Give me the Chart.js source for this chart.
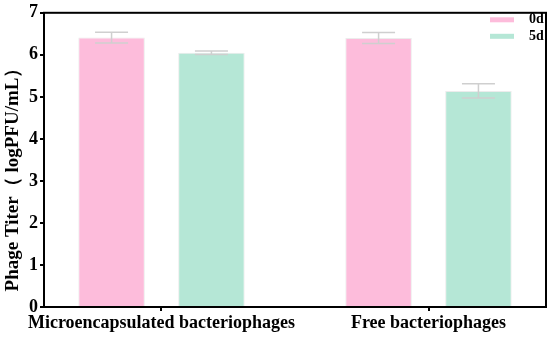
<!DOCTYPE html>
<html>
<head>
<meta charset="utf-8">
<script src="https://cdn.jsdelivr.net/npm/chart.js@4.4.0/dist/chart.umd.min.js"></script>
<style>
  body { margin: 0; background: #fff; }
  #wrap { width: 550px; height: 338px; }
</style>
</head>
<body>
<div id="wrap"><canvas id="myChart"></canvas></div>
<script>
const categories = ['Microencapsulated bacteriophages', 'Free bacteriophages'];
const seriesNames = ['0d', '5d'];
const day0 = [6.41, 6.40];
const day0Err = [0.13, 0.13];
const day5 = [6.05, 5.14];
const day5Err = [0.04, 0.17];
const yTicks = [0, 1, 2, 3, 4, 5, 6, 7];
const yTitle = 'Phage Titer（ logPFU/mL）';

const serif = "'Liberation Serif', 'Times New Roman', serif";

// error bars drawn from the same scales as the bars
const errorBars = {
    id: 'errorBars',
    afterDatasetsDraw(chart) {
        const ctx = chart.ctx;
        const y = chart.scales.y;
        chart.data.datasets.forEach((ds, i) => {
            const meta = chart.getDatasetMeta(i);
            meta.data.forEach((bar, j) => {
                const v = ds.data[j], e = ds.errors[j];
                const top = y.getPixelForValue(v + e);
                const bot = y.getPixelForValue(v - e);
                ctx.save();
                ctx.strokeStyle = '#cfcfcf';
                ctx.lineWidth = 1.5;
                ctx.beginPath();
                ctx.moveTo(bar.x, top); ctx.lineTo(bar.x, bot);
                ctx.moveTo(bar.x - 16.5, top); ctx.lineTo(bar.x + 16.5, top);
                ctx.moveTo(bar.x - 16.5, bot); ctx.lineTo(bar.x + 16.5, bot);
                ctx.stroke();
                ctx.restore();
            });
        });
    }
};

// box around the plot, y title, legend stacked at the top right
const frameAndLegend = {
    id: 'frameAndLegend',
    afterDraw(chart) {
        const ctx = chart.ctx;
        const a = chart.chartArea;
        ctx.save();
        ctx.strokeStyle = '#000';
        ctx.lineWidth = 2;
        ctx.strokeRect(a.left, a.top, a.right - a.left, a.bottom - a.top);

        ctx.save();
        ctx.translate(13, 175);
        ctx.rotate(-Math.PI / 2);
        ctx.fillStyle = '#000';
        ctx.font = 'bold 19px ' + serif;
        ctx.textAlign = 'center';
        ctx.textBaseline = 'middle';
        ctx.fillText(yTitle, 0, 0);
        ctx.restore();

        chart.data.datasets.forEach((ds, i) => {
            const cy = a.top + 7 + i * 16.5;
            ctx.fillStyle = ds.backgroundColor;
            ctx.fillRect(a.right - 56, cy - 2.5, 24, 5);
            ctx.fillStyle = '#000';
            ctx.font = 'bold 14px ' + serif;
            ctx.textBaseline = 'middle';
            ctx.textAlign = 'left';
            ctx.fillText(ds.label, a.right - 17, cy);
        });
        ctx.restore();
    }
};

const ctx = document.getElementById('myChart').getContext('2d');
new Chart(ctx, {
    type: 'bar',
    data: {
        labels: categories,
        datasets: [{
            label: seriesNames[0],
            data: day0,
            errors: day0Err,
            backgroundColor: '#fdbcdb',
            borderColor: '#ececec',
            borderWidth: 1
        }, {
            label: seriesNames[1],
            data: day5,
            errors: day5Err,
            backgroundColor: '#b5e7d6',
            borderColor: '#ececec',
            borderWidth: 1
        }]
    },
    options: {
        responsive: true,
        maintainAspectRatio: false,
        animation: false,
        layout: { padding: { top: 9, right: 4, left: 0, bottom: 0 } },
        categoryPercentage: 0.748,
        barPercentage: 0.666,
        plugins: {
            legend: { display: false },
            tooltip: { enabled: false }
        },
        scales: {
            x: {
                offset: true,
                afterBuildTicks: (scale) => {
                    scale._startValue = -0.44;
                    scale._valueRange = 1.88;
                },
                afterFit: (scale) => { scale.height = 31; },
                grid: {
                    offset: false,
                    drawOnChartArea: false,
                    color: '#000',
                    lineWidth: 2,
                    tickLength: 4
                },
                border: { display: false },
                ticks: {
                    color: '#000',
                    padding: 2,
                    maxRotation: 0,
                    autoSkip: false,
                    font: { family: serif, weight: 'bold', size: 18 }
                }
            },
            y: {
                min: 0,
                max: 7,
                afterBuildTicks: (scale) => {
                    scale.ticks = yTicks.map(v => ({ value: v }));
                },
                afterFit: (scale) => { scale.width = 44; },
                grid: {
                    drawOnChartArea: false,
                    color: '#000',
                    lineWidth: 2,
                    tickLength: 4
                },
                border: { display: false },
                ticks: {
                    color: '#000',
                    padding: 2,
                    font: { family: serif, weight: 'bold', size: 18 }
                }
            }
        }
    },
    plugins: [errorBars, frameAndLegend]
});
</script>
</body>
</html>
